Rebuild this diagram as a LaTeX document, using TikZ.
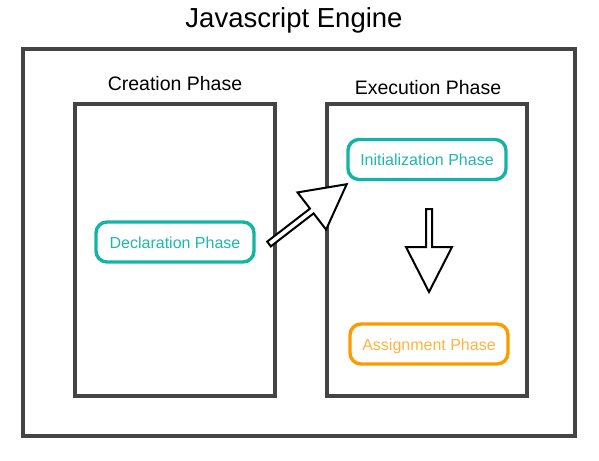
\documentclass[tikz,border=0pt]{standalone}
\usepackage{fontspec}
\setmainfont{Liberation Sans}
\definecolor{framegray}{HTML}{444444}
\definecolor{tealline}{HTML}{12B5A4}
\definecolor{tealtext}{HTML}{20B8A8}
\definecolor{orangeline}{HTML}{FF9900}
\definecolor{orangetext}{HTML}{FFB340}
\begin{document}
\begin{tikzpicture}[x=1pt,y=-1pt,
  framebox/.style={draw=framegray, line width=4pt, inner sep=0pt},
  phasebox/.style={draw, rounded corners=11pt, line width=3.4pt, minimum width=158pt, minimum height=40pt,
    inner sep=0pt, text height=12pt, text depth=0pt, font=\fontsize{16}{19}\selectfont, fill=white},
  tealbox/.style={phasebox, draw=tealline, text=tealtext},
  orangebox/.style={phasebox, draw=orangeline, text=orangetext},
  heading/.style={anchor=base, inner sep=0pt, font=\fontsize{19.5}{23}\selectfont},
  blockarrow/.style={draw=black, fill=white, line width=2pt, line join=miter}]
\useasboundingbox (0,0) rectangle (599,460);

\node (title) at (294,28) [anchor=base, inner sep=0pt, font=\fontsize{27.5}{33}\selectfont] {Javascript Engine};

\node (engine) [framebox, minimum width=552pt, minimum height=387pt] at (299,242.5) {};
\node (creation) [framebox, minimum width=200pt, minimum height=292pt] at (175,250) {};
\node (execution) [framebox, minimum width=200pt, minimum height=292pt] at (427,250) {};

\node (creationlabel) [heading] at (175,90) {Creation Phase};
\node (executionlabel) [heading] at (428,94) {Execution Phase};

\node (decl) [tealbox] at (175,242) {Declaration Phase};
\node (init) [tealbox] at (427,159.5) {Initialization Phase};
\node (assign) [orangebox] at (429,344) {Assignment Phase};

% block arrow from declaration to initialization
\draw[blockarrow] (267.2,241.6) -- (310.0,208.6) -- (297.5,192.4) -- (346.7,184.2)
  -- (326.1,229.6) -- (313.6,213.4) -- (270.8,246.4) -- cycle;

% block arrow from initialization down to assignment
\draw[blockarrow] (426,209) -- (432,209) -- (432,247) -- (452,247) -- (429,292)
  -- (406,247) -- (426,247) -- cycle;
\end{tikzpicture}
\end{document}
